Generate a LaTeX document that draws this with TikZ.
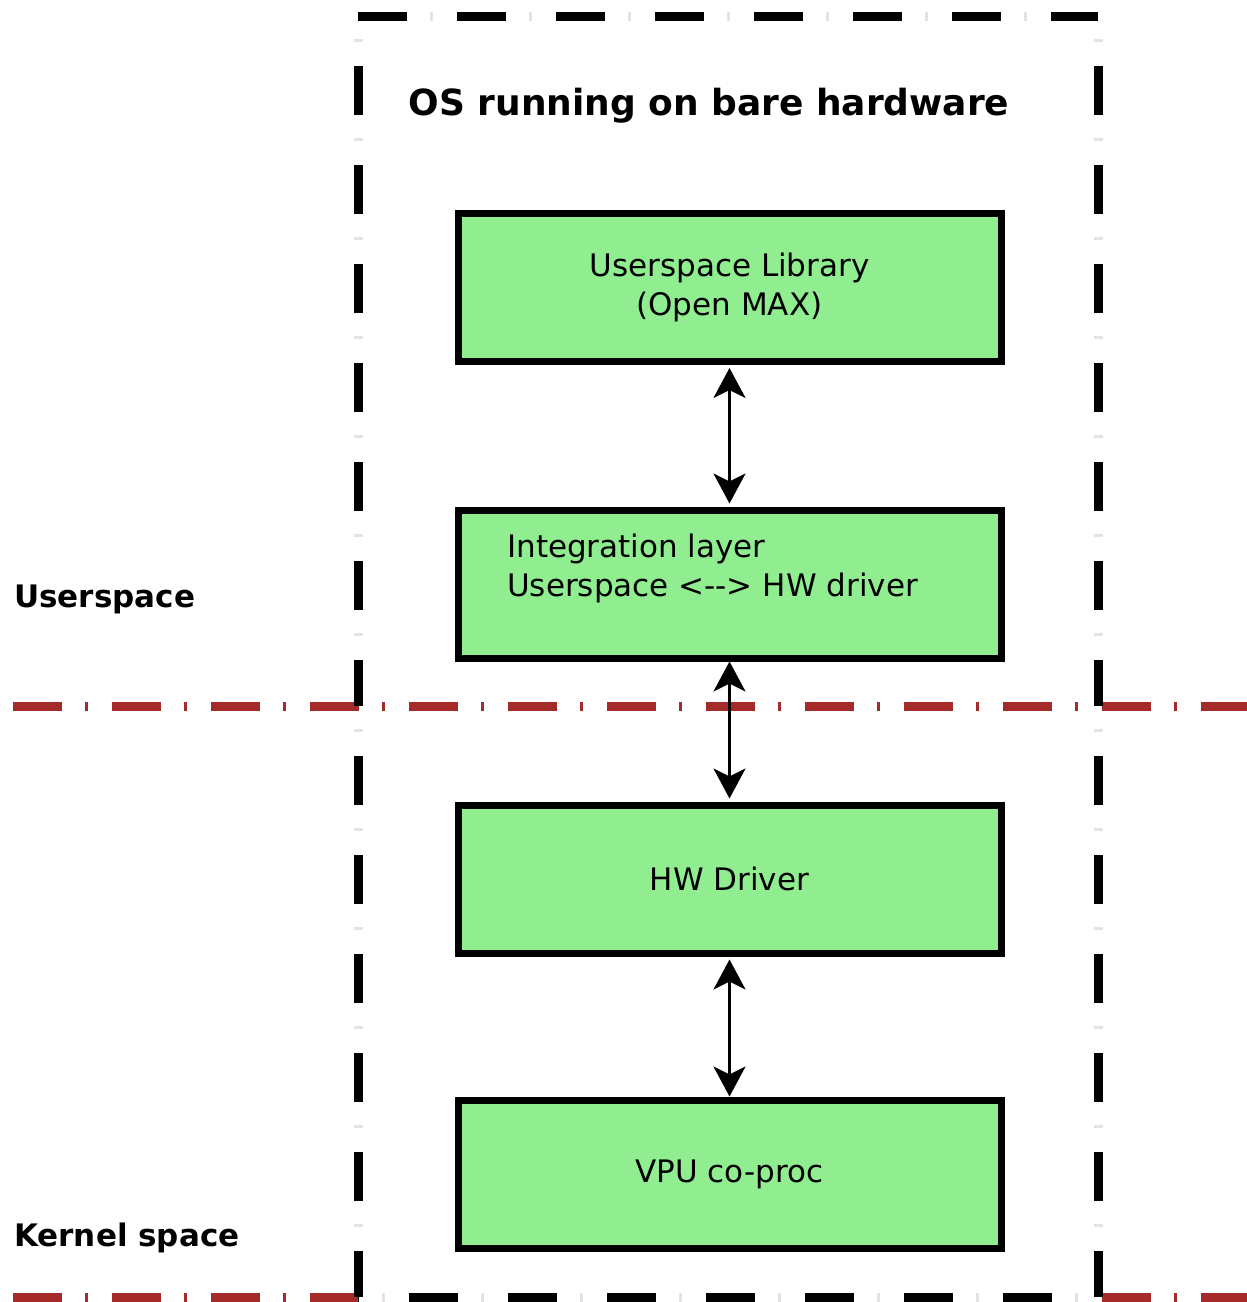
\documentclass[tikz,border=0pt]{standalone}
\usepackage{fontspec}
\setmainfont{DejaVu Sans}
\usetikzlibrary{arrows.meta}
\definecolor{boxgreen}{HTML}{90EE90}
\definecolor{sepred}{HTML}{A52A2A}
\begin{document}
\begin{tikzpicture}[x=1pt,y=-1pt,
  layerbox/.style={draw=black, line width=7pt, fill=boxgreen,
    minimum width=543pt, minimum height=148pt, inner sep=0pt,
    align=center, font=\fontsize{31}{39}\selectfont},
  boxtext/.style={inner sep=0pt, align=left, font=\fontsize{31}{39}\selectfont},
  sepline/.style={draw=sepred, line width=9pt,
    dash pattern=on 49pt off 23pt on 3pt off 24pt},
  boxline/.style={draw=black, line width=9pt, dash pattern=on 49pt off 50pt,
    postaction={draw=gray!22, dash pattern=on 0pt off 72pt on 3pt off 24pt}},
  sidelabel/.style={inner sep=0pt, font=\fontsize{31}{39}\selectfont\bfseries},
  titlelabel/.style={inner sep=0pt, font=\fontsize{36}{43}\selectfont\bfseries},
  link/.style={draw=black, line width=3pt,
    {Stealth[length=30pt,width=32pt,inset=8pt]}-{Stealth[length=30pt,width=32pt,inset=8pt]}}
]
\useasboundingbox (0,0) rectangle (1247,1302);

% separators
\draw[sepline] (13,706) -- (1247,706);
\draw[sepline] (13,1297) -- (1247,1297);

% enclosing OS box
\draw[boxline, dash phase=49pt] (358,16) -- (358,706);
\draw[boxline, dash phase=49pt] (1098,16) -- (1098,706);
\draw[boxline] (358,16) -- (1098,16);
\draw[boxline, dash phase=49pt] (358,706) -- (358,1297);
\draw[boxline, dash phase=49pt] (1098,706) -- (1098,1297);
\draw[boxline, dash phase=48pt] (358,1297) -- (1098,1297);

% labels
\node[titlelabel, anchor=base] (title) at (709,115) {OS running on bare hardware};
\node[sidelabel, anchor=base west] (user) at (14,607) {Userspace};
\node[sidelabel, anchor=base west] (kernel) at (14,1246) {Kernel space};

% layer boxes
\node[layerbox] (lib) at (729.5,287.5) {Userspace Library\\(Open MAX)};
\node[layerbox] (integ) at (729.5,584) {};
\node[boxtext, anchor=north west] (integtext) at (507,534) {Integration layer\\Userspace <-{}-> HW driver};
\node[layerbox] (drv) at (729.5,879) {HW Driver};
\node[layerbox] (vpu) at (729.5,1174) {VPU co-proc};

% connectors
\draw[link, shorten <=3pt, shorten >=3pt] (lib.south) -- (integ.north);
\draw[link, shorten <=0pt, shorten >=3pt] (integ.south) -- (drv.north);
\draw[link, shorten <=3pt, shorten >=0pt] (drv.south) -- (vpu.north);
\end{tikzpicture}
\end{document}
